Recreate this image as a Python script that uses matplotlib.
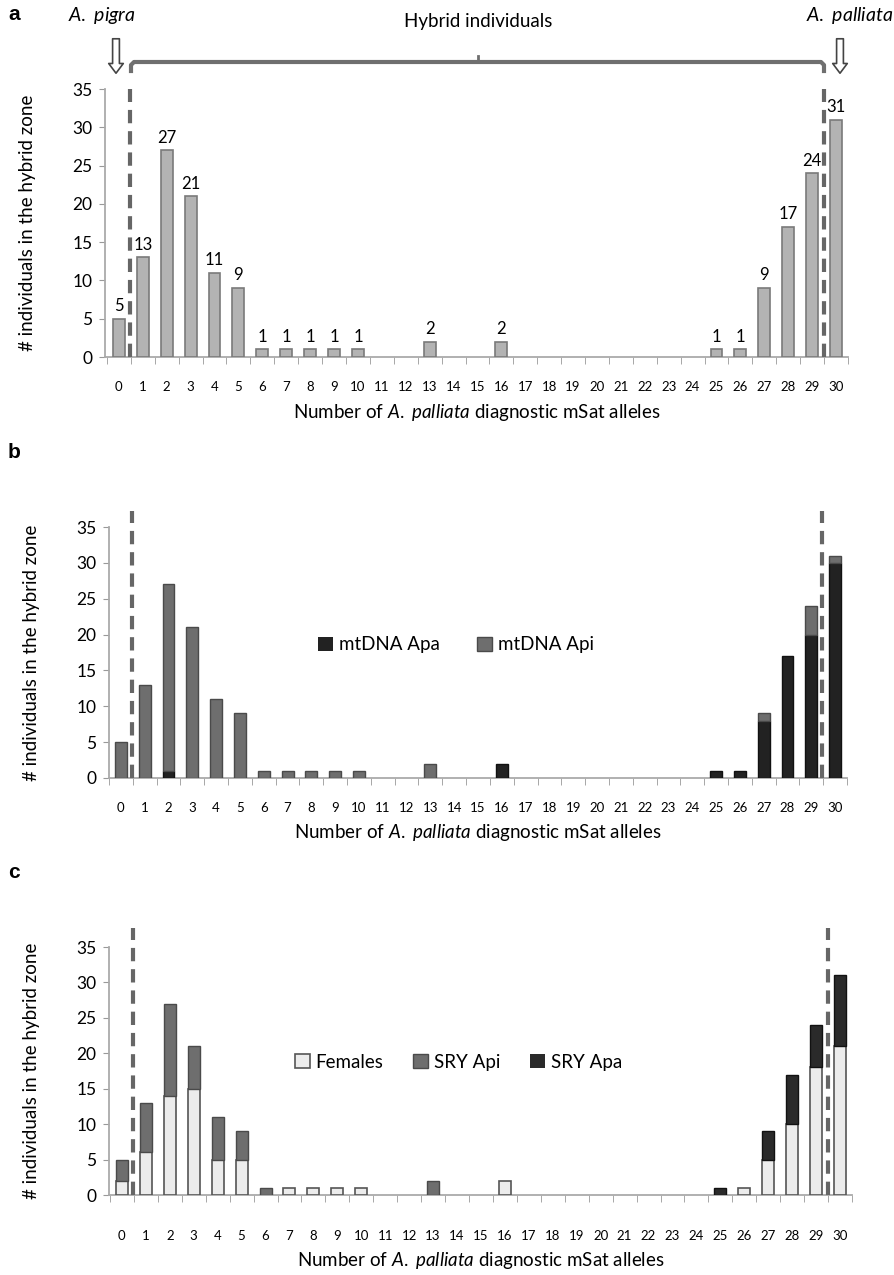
import matplotlib
matplotlib.use("Agg")
import matplotlib.pyplot as plt
from matplotlib.lines import Line2D
import numpy as np

plt.rcParams['font.family'] = ['Lato', 'DejaVu Sans']
plt.rcParams['mathtext.fontset'] = 'custom'
plt.rcParams['mathtext.it'] = 'Lato:italic'
plt.rcParams['mathtext.rm'] = 'Lato'

# ---------------- data ----------------
categories = list(range(31))
tick_labels = [str(c) for c in categories]
totals = [5, 13, 27, 21, 11, 9, 1, 1, 1, 1, 1, 0, 0, 2, 0, 0, 2,
          0, 0, 0, 0, 0, 0, 0, 0, 1, 1, 9, 17, 24, 31]

mt_apa = [0, 0, 1, 0, 0, 0, 0, 0, 0, 0, 0, 0, 0, 0, 0, 0, 2,
          0, 0, 0, 0, 0, 0, 0, 0, 1, 1, 8, 17, 20, 30]
mt_api = [5, 13, 26, 21, 11, 9, 1, 1, 1, 1, 1, 0, 0, 2, 0, 0, 0,
          0, 0, 0, 0, 0, 0, 0, 0, 0, 0, 1, 0, 4, 1]

females = [2, 6, 14, 15, 5, 5, 0, 1, 1, 1, 1, 0, 0, 0, 0, 0, 2,
           0, 0, 0, 0, 0, 0, 0, 0, 0, 1, 5, 10, 18, 21]
sry_api = [3, 7, 13, 6, 6, 4, 1, 0, 0, 0, 0, 0, 0, 2, 0, 0, 0,
           0, 0, 0, 0, 0, 0, 0, 0, 0, 0, 0, 0, 0, 0]
sry_apa = [0, 0, 0, 0, 0, 0, 0, 0, 0, 0, 0, 0, 0, 0, 0, 0, 0,
           0, 0, 0, 0, 0, 0, 0, 0, 1, 0, 4, 7, 6, 10]

W, H = 894, 1275
fig = plt.figure(figsize=(W / 100, H / 100), dpi=100)

def add_axes(left, right, top, bottom):
    return fig.add_axes([left / W, 1 - bottom / H, (right - left) / W, (bottom - top) / H])

XLABEL = r"Number of $\mathit{A.\ palliata}$ diagnostic mSat alleles"

def style(ax, xlim, ytop, xlabel_pad, xtick_pad):
    ax.set_xlim(*xlim)
    ax.set_ylim(0, ytop)
    ax.set_yticks(np.arange(0, 36, 5))
    ax.tick_params(axis='y', labelsize=12.5, length=4, color='#999999', direction='out', pad=5)
    ax.set_xticks(categories)
    ax.set_xticklabels(tick_labels, fontsize=9.5)
    ax.tick_params(axis='x', which='major', length=0, pad=xtick_pad)
    ax.set_xticks(np.arange(-0.5, 31, 1), minor=True)
    ax.tick_params(axis='x', which='minor', length=5, color='#999999', direction='out')
    for s in ['top', 'right']:
        ax.spines[s].set_visible(False)
    for s in ['left', 'bottom']:
        ax.spines[s].set_color('#aaaaaa')
        ax.spines[s].set_linewidth(1.3)
    ax.spines['left'].set_bounds(0, 35)
    ax.set_xlabel(XLABEL, fontsize=13.5, labelpad=xlabel_pad)
    ax.set_ylabel("# individuals in the hybrid zone", fontsize=13.5)
    ax.yaxis.set_label_coords(-0.093, 0.5)

def dashed(ax, x, ytop):
    ax.plot([x, x], [0, ytop], color='#666666', lw=3, dashes=(3.2, 1.9), clip_on=False, zorder=5)

def edges(vals, col):
    return [col if v > 0 else 'none' for v in vals]

bw = 0.5

# ---------------- panel a ----------------
axa = add_axes(105, 848, 89, 357)
style(axa, (-0.58, 30.42), 35, 7, 17)
axa.bar(categories, totals, width=bw, color='#b3b3b3', edgecolor=edges(totals, '#7a7a7a'),
        linewidth=1.2, zorder=3)
for x, v in zip(categories, totals):
    if v > 0:
        axa.text(x, v + 0.6, str(v), ha='center', va='bottom', fontsize=12)
dashed(axa, 0.45, 35)
dashed(axa, 29.5, 35)

# ---------------- panel b ----------------
axb = add_axes(109, 847, 527, 778)
style(axb, (-0.45, 30.4), 35, 6, 17)
axb.bar(categories, mt_apa, width=bw, color='#222222', edgecolor=edges(mt_apa, '#111111'),
        linewidth=1.0, label='mtDNA Apa', zorder=3)
axb.bar(categories, mt_api, width=bw, bottom=mt_apa, color='#6e6e6e',
        edgecolor=edges(mt_api, '#4a4a4a'), linewidth=1.0, label='mtDNA Api', zorder=3)
dashed(axb, 0.45, 37.3)
dashed(axb, 29.45, 37.3)
axb.legend(loc='center', bbox_to_anchor=(0.47, 0.53), ncol=2, frameon=False, fontsize=13.5,
           handlelength=0.8, handleheight=0.8, handletextpad=0.3, columnspacing=2.0)

# ---------------- panel c ----------------
axc = add_axes(109, 852, 947, 1195)
style(axc, (-0.54, 30.45), 35, 6, 25)
b1 = np.array(females)
b2 = b1 + np.array(sry_api)
axc.bar(categories, females, width=bw, color='#ececec', edgecolor=edges(females, '#555555'),
        linewidth=1.2, label='Females', zorder=3)
axc.bar(categories, sry_api, width=bw, bottom=b1, color='#6e6e6e',
        edgecolor=edges(sry_api, '#4a4a4a'), linewidth=1.0, label='SRY Api', zorder=3)
axc.bar(categories, sry_apa, width=bw, bottom=b2, color='#2a2a2a',
        edgecolor=edges(sry_apa, '#111111'), linewidth=1.0, label='SRY Apa', zorder=3)
dashed(axc, 0.45, 37.7)
dashed(axc, 29.5, 37.7)
axc.legend(loc='center', bbox_to_anchor=(0.47, 0.535), ncol=3, frameon=False, fontsize=13.5,
           handlelength=0.8, handleheight=0.8, handletextpad=0.3, columnspacing=1.6)

# ---------------- annotations ----------------
def fpx(x, y):
    return (x / W, 1 - y / H)

for lab, y in [('a', 14), ('b', 452), ('c', 872)]:
    fig.text(*fpx(14, y), lab, fontsize=15, fontweight='bold', family='Liberation Sans',
             ha='center', va='center')

fig.text(*fpx(102, 15), r"$\mathit{A.\ pigra}$", fontsize=14, ha='center', va='center')
fig.text(*fpx(850, 15), r"$\mathit{A.\ palliata}$", fontsize=14, ha='center', va='center')
fig.text(*fpx(478, 22), "Hybrid individuals", fontsize=13.5, ha='center', va='center')

for xa in (116, 840):
    fig.patches.append(matplotlib.patches.FancyArrowPatch(
        fpx(xa, 36), fpx(xa, 76), transform=fig.transFigure,
        arrowstyle='simple,head_length=0.5,head_width=0.75,tail_width=0.35',
        mutation_scale=14, facecolor='white', edgecolor='#444444', linewidth=1.2))

# bracket
bx = [131, 131, 134, 821, 824, 824]
by = [71, 65, 62, 62, 65, 71]
xs = [p / W for p in bx]
ys = [1 - p / H for p in by]
fig.add_artist(Line2D(xs, ys, transform=fig.transFigure, color='#6f6f6f', lw=3,
                      solid_joinstyle='round'))
fig.add_artist(Line2D([478 / W, 478 / W], [1 - 62 / H, 1 - 56 / H], transform=fig.transFigure,
                      color='#6f6f6f', lw=2))

fig.savefig('out.png', dpi=100)
